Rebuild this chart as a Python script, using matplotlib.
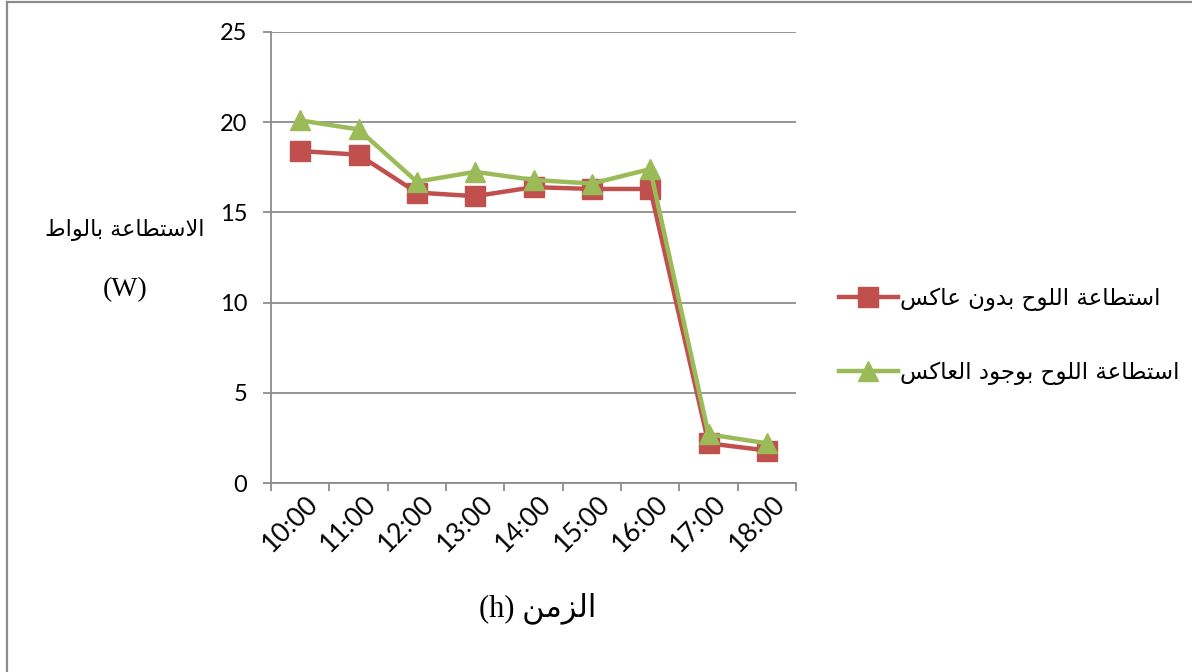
import matplotlib
matplotlib.use("Agg")
import matplotlib.pyplot as plt
from matplotlib.lines import Line2D
from matplotlib.ticker import FixedLocator, NullFormatter
from matplotlib.transforms import ScaledTranslation

# ---- data -------------------------------------------------------------
hours = ["10:00", "11:00", "12:00", "13:00", "14:00", "15:00", "16:00", "17:00", "18:00"]
power_without = [18.4, 18.2, 16.1, 15.9, 16.4, 16.3, 16.3, 2.2, 1.8]
power_with = [20.1, 19.6, 16.7, 17.25, 16.8, 16.6, 17.4, 2.7, 2.2]

label_without = "استطاعة اللوح بدون عاكس"
label_with = "استطاعة اللوح بوجود العاكس"
y_title = "الاستطاعة بالواط"
y_unit = "(W)"
x_title = "الزمن"
x_unit = "(h)"

y_ticks = [0, 5, 10, 15, 20, 25]

# ---- minimal Arabic shaping (presentation forms, visual order) --------
# (isolated, final, initial, medial)
FORMS = {
    "ا": ("\uFE8D", "\uFE8E", None, None),
    "ب": ("\uFE8F", "\uFE90", "\uFE91", "\uFE92"),
    "ة": ("\uFE93", "\uFE94", None, None),
    "ت": ("\uFE95", "\uFE96", "\uFE97", "\uFE98"),
    "ج": ("\uFE9D", "\uFE9E", "\uFE9F", "\uFEA0"),
    "ح": ("\uFEA1", "\uFEA2", "\uFEA3", "\uFEA4"),
    "د": ("\uFEA9", "\uFEAA", None, None),
    "ز": ("\uFEAF", "\uFEB0", None, None),
    "س": ("\uFEB1", "\uFEB2", "\uFEB3", "\uFEB4"),
    "ط": ("\uFEC1", "\uFEC2", "\uFEC3", "\uFEC4"),
    "ع": ("\uFEC9", "\uFECA", "\uFECB", "\uFECC"),
    "ك": ("\uFED9", "\uFEDA", "\uFEDB", "\uFEDC"),
    "ل": ("\uFEDD", "\uFEDE", "\uFEDF", "\uFEE0"),
    "م": ("\uFEE1", "\uFEE2", "\uFEE3", "\uFEE4"),
    "ن": ("\uFEE5", "\uFEE6", "\uFEE7", "\uFEE8"),
    "و": ("\uFEED", "\uFEEE", None, None),
}
LAM_ALEF = ("\uFEFB", "\uFEFC")


def joins_forward(ch):
    return ch in FORMS and FORMS[ch][2] is not None


def shape(text):
    out = []
    i = 0
    n = len(text)
    while i < n:
        ch = text[i]
        prev = text[i - 1] if i > 0 else ""
        if ch not in FORMS:
            out.append(ch)
            i += 1
            continue
        link_prev = joins_forward(prev)
        if ch == "ل" and i + 1 < n and text[i + 1] == "ا":
            out.append(LAM_ALEF[1] if link_prev else LAM_ALEF[0])
            i += 2
            continue
        nxt = text[i + 1] if i + 1 < n else ""
        link_next = joins_forward(ch) and nxt in FORMS
        iso, fin, ini, med = FORMS[ch]
        if link_prev and link_next:
            out.append(med)
        elif link_prev:
            out.append(fin)
        elif link_next:
            out.append(ini)
        else:
            out.append(iso)
        i += 1
    return "".join(reversed(out))


# ---- figure -----------------------------------------------------------
W, H = 1192, 672
fig = plt.figure(figsize=(W / 100, H / 100), dpi=100)
fig.patch.set_facecolor("white")

ax = fig.add_axes([271 / W, 1 - 483 / H, (796 - 271) / W, (483 - 32) / H])

red = "#C0504D"
green = "#9BBB59"
grid_c = "#8C8C8C"

x = list(range(len(hours)))
ax.plot(x, power_without, color=red, lw=3.2, marker="s", ms=14,
        mec=red, mfc=red, zorder=3, label=shape(label_without))
ax.plot(x, power_with, color=green, lw=3.2, marker="^", ms=15,
        mec=green, mfc=green, zorder=4, label=shape(label_with))

ax.set_xlim(-0.5, len(hours) - 0.5)
ax.set_ylim(0, 25)
ax.set_yticks(y_ticks)
ax.set_yticklabels([str(v) for v in y_ticks])
ax.set_xticks(x)
ax.set_xticklabels(hours, rotation=45, ha="right", va="center",
                   rotation_mode="anchor")
ax.xaxis.set_minor_locator(FixedLocator([i - 0.5 for i in range(len(hours) + 1)]))
ax.xaxis.set_minor_formatter(NullFormatter())

ax.grid(axis="y", color=grid_c, lw=1.3, zorder=0)
ax.set_axisbelow(True)
for s in ("top", "right"):
    ax.spines[s].set_visible(False)
for s in ("left", "bottom"):
    ax.spines[s].set_color(grid_c)
    ax.spines[s].set_linewidth(1.3)

tick_font = "Lato"
ax.tick_params(axis="y", length=6, width=1.3, color=grid_c, pad=11,
               labelsize=17)
ax.tick_params(axis="x", which="major", length=0, pad=12, labelsize=19)
ax.tick_params(axis="x", which="minor", length=6, width=1.3, color=grid_c)
shift = ScaledTranslation(14 / 100, 0, fig.dpi_scale_trans)
for lab in ax.get_xticklabels():
    lab.set_fontfamily(tick_font)
    lab.set_transform(lab.get_transform() + shift)
for lab in ax.get_yticklabels():
    lab.set_fontfamily(tick_font)

# axis titles
fig.text(125 / W, 1 - 230 / H, shape(y_title), ha="center", va="center",
         fontsize=16, family=["DejaVu Sans"])
fig.text(125 / W, 1 - 290 / H, y_unit, ha="center", va="center",
         fontsize=20, family=["Liberation Serif", "DejaVu Sans"])
fig.text(538 / W, 1 - 608 / H, x_unit + " " + shape(x_title), ha="center",
         va="center", fontsize=22, family=["Liberation Serif", "DejaVu Sans"])

# legend
leg = fig.legend(loc="center left", bbox_to_anchor=(818 / W, 1 - 336 / H),
                 frameon=False, handlelength=2.6, handletextpad=0.1,
                 labelspacing=2.2, prop={"family": "DejaVu Sans", "size": 16.5})

# outer frame of the chart area
fig.add_artist(Line2D([7 / W, 7 / W], [0, 1 - 2 / H], transform=fig.transFigure,
                      color="#8C8C8C", lw=1.6))
fig.add_artist(Line2D([7 / W, 1], [1 - 2 / H, 1 - 2 / H], transform=fig.transFigure,
                      color="#8C8C8C", lw=1.6))

fig.savefig("out.png", dpi=100, facecolor="white")
